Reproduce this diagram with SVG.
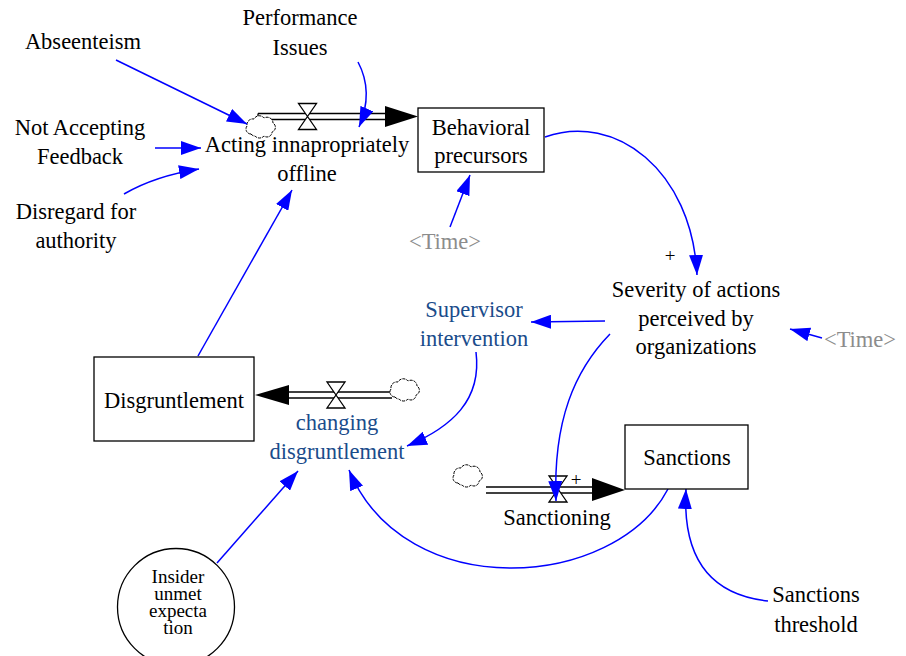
<svg xmlns="http://www.w3.org/2000/svg" width="906" height="656" viewBox="0 0 906 656" font-family="Liberation Serif, Times New Roman, serif">
<style>
text{font-size:22.5px;text-anchor:middle;fill:#000}
.blue{fill:#1a4c8b}
.gray{fill:#8c8c8c}
.plus{font-size:19px}
.small{font-size:19px}
.box{fill:#fff;stroke:#000;stroke-width:1.3}
.link{fill:none;stroke:#0000ff;stroke-width:1.5}
.pipe{stroke:#000;stroke-width:1.3}
.valve{fill:#fff;stroke:#000;stroke-width:1.3}
.cloud{fill:#fff;stroke:#000;stroke-width:1;stroke-dasharray:3 1}
</style>
<defs>
<marker id="ahb" viewBox="0 0 20 14" refX="20" refY="7" markerWidth="20" markerHeight="14" markerUnits="userSpaceOnUse" orient="auto">
<path d="M0,0 L20,7 L0,14 Z" fill="#0000ff"/>
</marker>
<path id="cloudShape" d="M-11,7 a5,5 0 0 1 -4,-8 a6,6 0 0 1 7,-7 a6,6 0 0 1 10,-1 a6,6 0 0 1 9,5 a5,5 0 0 1 -1,9 a5,5 0 0 1 -8,4 a6,6 0 0 1 -9,0 a5,5 0 0 1 -4,-2 z"/>
<polygon id="valveShape" points="-9,-13 9,-13 -9,13 9,13"/>
</defs>

<!-- flows -->
<g id="flow-acting">
<line class="pipe" x1="258" y1="113.5" x2="392" y2="113.5"/>
<line class="pipe" x1="265" y1="119.5" x2="392" y2="119.5"/>
<line class="pipe" x1="258" y1="113.5" x2="258" y2="118"/>
<polygon points="385,106 418,116.5 385,127" fill="#000"/>
<use href="#cloudShape" class="cloud" x="262" y="127"/>
<use href="#valveShape" class="valve" x="307.5" y="116.5"/>
<text x="307" y="152">Acting innapropriately</text>
<text x="307" y="181">offline</text>
</g>

<g id="flow-changing">
<line class="pipe" x1="286" y1="392" x2="392" y2="392"/>
<line class="pipe" x1="286" y1="398" x2="392" y2="398"/>
<polygon points="289,385 255,395 289,405" fill="#000"/>
<use href="#cloudShape" class="cloud" x="406" y="390"/>
<use href="#valveShape" class="valve" x="336" y="395"/>
<text class="blue" x="337" y="430">changing</text>
<text class="blue" x="337" y="459">disgruntlement</text>
</g>

<g id="flow-sanctioning">
<line class="pipe" x1="486" y1="487" x2="595" y2="487"/>
<line class="pipe" x1="486" y1="493" x2="595" y2="493"/>
<polygon points="592,478 625,490 592,501" fill="#000"/>
<use href="#cloudShape" class="cloud" x="469" y="476"/>
<use href="#valveShape" class="valve" x="558" y="489"/>
<text x="557" y="525">Sanctioning</text>
</g>

<!-- connectors -->
<g id="connectors">
<path class="link" d="M116,60 L247,124" marker-end="url(#ahb)"/>
<path class="link" d="M358,62 Q374,92 359,127" marker-end="url(#ahb)"/>
<path class="link" d="M155,148 L201,148" marker-end="url(#ahb)"/>
<path class="link" d="M124,194 Q155,176 199,169" marker-end="url(#ahb)"/>
<path class="link" d="M198,356 L292,190" marker-end="url(#ahb)"/>
<path class="link" d="M545,137 C615,112 692,170 697,275" marker-end="url(#ahb)"/>
<path class="link" d="M450,227 L470,175" marker-end="url(#ahb)"/>
<path class="link" d="M822,338 L790,329" marker-end="url(#ahb)"/>
<path class="link" d="M605,321 L531,322" marker-end="url(#ahb)"/>
<path class="link" d="M610,334 C575,370 553,420 556,501" marker-end="url(#ahb)"/>
<path class="link" d="M476,352 C482,400 452,427 407,446" marker-end="url(#ahb)"/>
<path class="link" d="M217,563 L298,471" marker-end="url(#ahb)"/>
<path class="link" d="M668,489 C615,590 405,605 349,470" marker-end="url(#ahb)"/>
<path class="link" d="M768,601 C712,595 682,560 686,489" marker-end="url(#ahb)"/>
<text class="plus" x="670" y="262">+</text>
<text class="plus" x="576" y="486">+</text>
</g>

<!-- nodes -->
<g id="performance-issues">
<text x="300" y="25">Performance</text>
<text x="300" y="55">Issues</text>
</g>
<g id="abseenteism"><text x="83" y="49">Abseenteism</text></g>
<g id="not-accepting-feedback">
<text x="80" y="135">Not Accepting</text>
<text x="80" y="164">Feedback</text>
</g>
<g id="disregard-for-authority">
<text x="76" y="219">Disregard for</text>
<text x="76" y="248">authority</text>
</g>
<g id="behavioral-precursors">
<rect class="box" x="418" y="108" width="126" height="64"/>
<text x="481" y="135">Behavioral</text>
<text x="481" y="163">precursors</text>
</g>
<g id="time-1"><text class="gray" x="445" y="249">&lt;Time&gt;</text></g>
<g id="severity">
<text x="696" y="297">Severity of actions</text>
<text x="696" y="326">perceived by</text>
<text x="696" y="354">organizations</text>
</g>
<g id="time-2"><text class="gray" x="860" y="347">&lt;Time&gt;</text></g>
<g id="supervisor-intervention">
<text class="blue" x="474" y="317">Supervisor</text>
<text class="blue" x="474" y="346">intervention</text>
</g>
<g id="disgruntlement">
<rect class="box" x="94" y="357" width="160" height="84"/>
<text x="174" y="408">Disgruntlement</text>
</g>
<g id="sanctions">
<rect class="box" x="625" y="425" width="123" height="64"/>
<text x="687" y="465">Sanctions</text>
</g>
<g id="insider-unmet-expectation">
<circle cx="176" cy="607" r="58.5" fill="#fff" stroke="#000" stroke-width="1.3"/>
<text class="small" x="178" y="583">Insider</text>
<text class="small" x="178" y="600">unmet</text>
<text class="small" x="178" y="617">expecta</text>
<text class="small" x="178" y="634">tion</text>
</g>
<g id="sanctions-threshold">
<text x="816" y="602">Sanctions</text>
<text x="816" y="632">threshold</text>
</g>
</svg>
